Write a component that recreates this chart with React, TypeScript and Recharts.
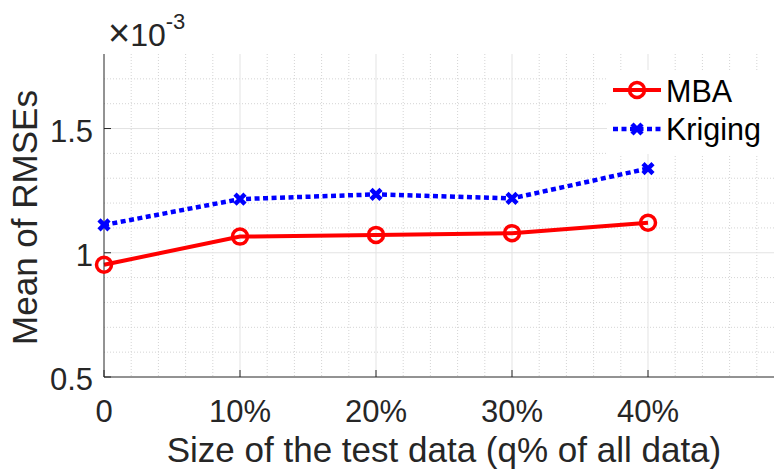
import React from "react";
import {
  LineChart,
  Line,
  XAxis,
  YAxis,
  CartesianGrid,
} from "recharts";

// test data size (% of all data)
const qValues = [0, 10, 20, 30, 40];
// mean RMSE, in units of 1e-3
const mbaValues = [0.952, 1.065, 1.072, 1.079, 1.121];
const krigingValues = [1.112, 1.216, 1.235, 1.219, 1.339];

const xTicks = [0, 10, 20, 30, 40];
const yTicks = [0.5, 1, 1.5];
const xMinor = [2, 4, 6, 8, 12, 14, 16, 18, 22, 24, 26, 28, 32, 34, 36, 38, 42, 44, 46, 48];
const yMinor = [0.6, 0.7, 0.8, 0.9, 1.1, 1.2, 1.3, 1.4, 1.6, 1.7];
const xMajor = [10, 20, 30, 40];
const yMajor = [1, 1.5];

const data = qValues.map((q, i) => ({
  q,
  MBA: mbaValues[i],
  Kriging: krigingValues[i],
}));

const AXIS = "#262626";
const FONT = "'Liberation Sans', Arial, Helvetica, sans-serif";

const XTick = ({ x, y, payload }: any) => (
  <g>
    <line x1={x} x2={x} y1={y} y2={y - 7} stroke={AXIS} />
    <text x={x} y={y + 45} textAnchor="middle" fontSize={31} fill={AXIS} fontFamily={FONT}>
      {payload.value === 0 ? "0" : `${payload.value}%`}
    </text>
  </g>
);

const TopTick = ({ x, y }: any) => (
  <line x1={x} x2={x} y1={y} y2={y + 7} stroke={AXIS} />
);

const YTick = ({ x, y, payload }: any) => (
  <g>
    <line x1={x} x2={x + 7} y1={y} y2={y} stroke={AXIS} />
    <text x={x - 11} y={y} dy={13} textAnchor="end" fontSize={31} fill={AXIS} fontFamily={FONT}>
      {payload.value}
    </text>
  </g>
);

const YLabel = ({ viewBox }: any) => {
  const cx = viewBox.x + 37;
  const cy = viewBox.y + viewBox.height / 2 + 2;
  return (
    <text
      x={cx}
      y={cy}
      transform={`rotate(-90, ${cx}, ${cy})`}
      textAnchor="middle"
      fontSize={35}
      fill={AXIS}
      fontFamily={FONT}
    >
      Mean of RMSEs
    </text>
  );
};

const CircleDot = ({ cx, cy, index }: any) => (
  <circle key={index} cx={cx} cy={cy} r={7.5} fill="none" stroke="#ff0000" strokeWidth={3.5} />
);

const CrossDot = ({ cx, cy, index }: any) => (
  <path
    key={index}
    d={`M${cx - 5},${cy - 5}L${cx + 5},${cy + 5}M${cx - 5},${cy + 5}L${cx + 5},${cy - 5}`}
    stroke="#0000ff"
    strokeWidth={4.5}
    fill="none"
  />
);

export default function App() {
  return (
    <div
      style={{
        position: "absolute",
        left: 0,
        top: 0,
        width: 774,
        height: 470,
        overflow: "hidden",
        background: "#fff",
        fontFamily: FONT,
      }}
    >
      <LineChart
        width={800}
        height={470}
        data={data}
        margin={{ top: 54, right: 16, bottom: 0, left: 0 }}
      >
        <CartesianGrid
          horizontalValues={yMinor}
          verticalValues={xMinor}
          stroke="#d4d4d4"
          strokeDasharray="1 2"
        />
        <CartesianGrid
          horizontalValues={yMajor}
          verticalValues={xMajor}
          stroke="#e3e3e3"
        />
        <XAxis
          dataKey="q"
          type="number"
          domain={[0, 50]}
          ticks={xTicks}
          height={93}
          tickSize={0}
          tickMargin={0}
          tickLine={false}
          tick={<XTick />}
          stroke={AXIS}
          label={{
            value: "Size of the test data (q% of all data)",
            position: "insideBottom",
            offset: 8,
            fontSize: 35,
            fill: AXIS,
            fontFamily: FONT,
          }}
        />
        <XAxis
          xAxisId="top"
          orientation="top"
          type="number"
          domain={[0, 50]}
          ticks={xTicks}
          height={0}
          tickSize={0}
          tickMargin={0}
          tickLine={false}
          tick={<TopTick />}
          stroke={AXIS}
        />
        <YAxis
          type="number"
          domain={[0.5, 1.8]}
          ticks={yTicks}
          width={104}
          tickSize={0}
          tickMargin={0}
          tickLine={false}
          tick={<YTick />}
          stroke={AXIS}
          label={YLabel}
        />
        <Line
          dataKey="MBA"
          stroke="#ff0000"
          strokeWidth={4}
          dot={CircleDot}
          activeDot={false}
          isAnimationActive={false}
        />
        <Line
          dataKey="Kriging"
          stroke="#0000ff"
          strokeWidth={4.5}
          strokeDasharray="5 3.5"
          dot={CrossDot}
          activeDot={false}
          isAnimationActive={false}
        />
      </LineChart>

      <svg
        width={200}
        height={60}
        style={{ position: "absolute", left: 100, top: 0 }}
      >
        <text x={8} y={46} fontSize={32} fill={AXIS} fontFamily={FONT}>
          <tspan fontSize={38}>×</tspan>
          10
          <tspan dy={-17} fontSize={22}>-3</tspan>
        </text>
      </svg>

      <svg
        width={167}
        height={84}
        style={{ position: "absolute", left: 607, top: 70, background: "#fff" }}
      >
        <line x1={6} x2={54} y1={20} y2={20} stroke="#ff0000" strokeWidth={4} />
        <circle cx={30} cy={20} r={7.5} fill="none" stroke="#ff0000" strokeWidth={3.5} />
        <text x={59} y={32} fontSize={30.5} fill="#000" fontFamily={FONT}>MBA</text>
        <line
          x1={6}
          x2={54}
          y1={59}
          y2={59}
          stroke="#0000ff"
          strokeWidth={4.5}
          strokeDasharray="5 3.5"
        />
        <path d="M25,54L35,64M25,64L35,54" stroke="#0000ff" strokeWidth={4.5} fill="none" />
        <text x={59} y={70} fontSize={30.5} fill="#000" fontFamily={FONT}>Kriging</text>
      </svg>
    </div>
  );
}
